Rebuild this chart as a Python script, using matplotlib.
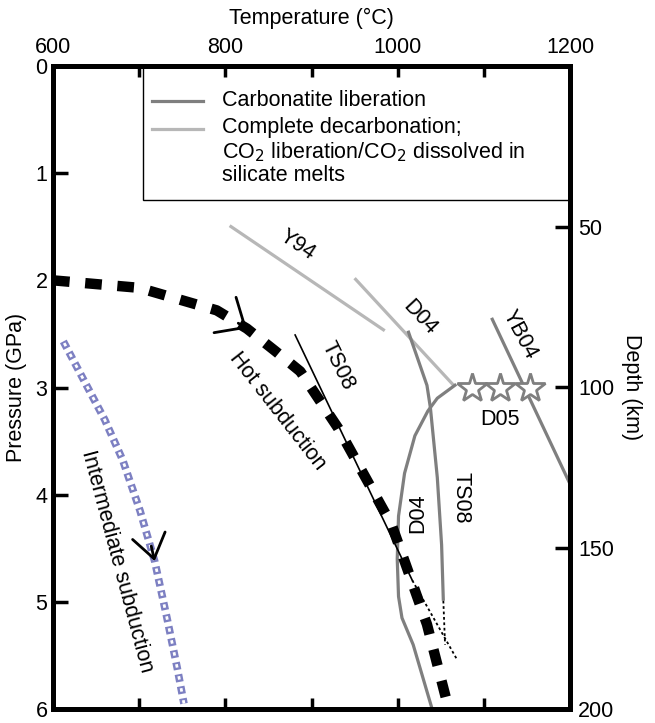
import numpy as np
import matplotlib
matplotlib.use("Agg")
import matplotlib.pyplot as plt
from matplotlib.patches import Rectangle

plt.rcParams['font.family'] = ['Liberation Sans', 'DejaVu Sans']
plt.rcParams['font.size'] = 15.5

#colors
DARK = '#7f7f7f'
LIGHT = '#b7b7b7'
BLUE = '#7d80c2'

#slab paths (T in C, P in GPa)
hot_T = [600, 700, 790, 825, 858, 887, 931, 993, 1034, 1058]
hot_P = [2.0, 2.07, 2.28, 2.45, 2.66, 2.85, 3.38, 4.28, 5.21, 5.96]
int_T = [612, 635, 660, 681, 701, 718, 732, 744, 752]
int_P = [2.57, 2.92, 3.3, 3.68, 4.15, 4.62, 5.14, 5.61, 5.95]

#carbonatite liberation (dark gray)
ts08_T = [1012, 1034, 1038, 1046, 1051, 1053]
ts08_P = [2.47, 2.98, 3.19, 3.84, 4.47, 4.99]
ts08_ext_T = [1053, 1055]
ts08_ext_P = [4.99, 5.40]
d04_T = [1068, 1046, 1035, 1020, 1008, 1001, 999.5, 1001, 1005, 1018, 1040]
d04_P = [2.97, 3.10, 3.22, 3.45, 3.8, 4.2, 4.6, 4.95, 5.15, 5.40, 6.0]
yb04_T = [1109, 1200]
yb04_P = [2.35, 3.90]

#complete decarbonation (light gray)
y94_T = [805, 985]
y94_P = [1.49, 2.47]
d04l_T = [950, 1065]
d04l_P = [1.98, 2.98]

#thin TS08 solidus line
ts08s_T = [881, 1017]
ts08s_P = [2.51, 4.80]
ts08s_ext_T = [1017, 1069]
ts08s_ext_P = [4.80, 5.54]

#D05 stars
d05_T = [1086, 1119, 1153]
d05_P = [3.0, 3.0, 3.0]

x_ticks = [600, 700, 800, 900, 1000, 1100, 1200]
x_labels = ['600', '', '800', '', '1000', '', '1200']
p_ticks = [0, 1, 2, 3, 4, 5, 6]
depth_ticks = [50, 100, 150, 200]

fig = plt.figure(figsize=(6.55, 7.23), dpi=100)
ax = fig.add_axes([53/655, 1-709/723, 517/655, 643/723])
ax.set_xlim(600, 1200)
ax.set_ylim(6, 0)

# intermediate subduction: hollow squares made of two dash patterns
ax.plot(int_T, int_P, color=BLUE, lw=5.5, ls=(0, (1.0, 0.6)), dash_capstyle='butt', zorder=3)
ax.plot(int_T, int_P, color='white', lw=2.0, ls=(7.45/2.0, (2.5/2.0, 6.3/2.0)),
        dash_capstyle='butt', zorder=4)

# gray curves
ax.plot(y94_T, y94_P, color=LIGHT, lw=2.3, solid_capstyle='butt')
ax.plot(d04l_T, d04l_P, color=LIGHT, lw=2.3, solid_capstyle='butt')
ax.plot(ts08_T, ts08_P, color=DARK, lw=2.3, solid_capstyle='butt')
ax.plot(d04_T, d04_P, color=DARK, lw=2.3, solid_capstyle='butt')
ax.plot(yb04_T, yb04_P, color=DARK, lw=2.3, solid_capstyle='butt')
ax.plot(ts08_ext_T, ts08_ext_P, color='black', lw=1.3, ls=(0, (1.5, 1.5)))
ax.plot(d05_T, d05_P, ls='none', marker='*', ms=22, mfc='white', mec=DARK, mew=2, zorder=5)

# thin TS08 line
ax.plot(ts08s_T, ts08s_P, color='black', lw=1.2)
ax.plot(ts08s_ext_T, ts08s_ext_P, color='black', lw=1.3, ls=(0, (1.5, 1.5)))

# hot subduction, thick dashes
ax.plot(hot_T, hot_P, color='black', lw=7.5, ls=(0, (1.6, 1.5)), dash_capstyle='butt', zorder=4)

# direction chevrons
ax.annotate('', xy=(hot_T[3], hot_P[3]), xytext=(815, 2.40),
            arrowprops=dict(arrowstyle='->, head_length=0.85, head_width=0.75', lw=2,
                            color='black', shrinkA=0, shrinkB=0, mutation_scale=20), zorder=6)
ax.annotate('', xy=(718, 4.62), xytext=(714, 4.48),
            arrowprops=dict(arrowstyle='->, head_length=0.85, head_width=0.6', lw=2,
                            color='black', shrinkA=0, shrinkB=0, mutation_scale=20), zorder=6)

# labels on curves
ax.text(884, 1.67, 'Y94', rotation=-34, ha='center', va='center')
ax.text(1026, 2.35, 'D04', rotation=-47, ha='center', va='center')
ax.text(1142, 2.51, 'YB04', rotation=-62, ha='center', va='center')
ax.text(930, 2.80, 'TS08', rotation=-64, ha='center', va='center')
ax.text(860, 3.22, 'Hot subduction', rotation=-52, ha='center', va='center')
ax.text(674, 4.62, 'Intermediate subduction', rotation=-75, ha='center', va='center')
ax.text(1119, 3.30, 'D05', ha='center', va='center')
ax.text(1023, 4.17, 'D04', rotation=90, ha='center', va='center')
ax.text(1074, 4.03, 'TS08', rotation=-90, ha='center', va='center')

# legend box
ax.add_patch(Rectangle((0.174, 0.791), 0.826, 0.209, transform=ax.transAxes,
                       fill=False, ec='black', lw=1, zorder=2))
ax.plot([0.191, 0.290], [0.946, 0.946], transform=ax.transAxes, color=DARK, lw=2.3)
ax.plot([0.191, 0.290], [0.902, 0.902], transform=ax.transAxes, color=LIGHT, lw=2.3)
ax.text(0.327, 0.946, 'Carbonatite liberation', transform=ax.transAxes, va='center')
ax.text(0.327, 0.921, 'Complete decarbonation;\nCO$_2$ liberation/CO$_2$ dissolved in\nsilicate melts',
        transform=ax.transAxes, va='top', linespacing=1.12)

# axes
for s in ax.spines.values():
    s.set_linewidth(3.6)
ax.xaxis.tick_top()
ax.xaxis.set_label_position('top')
ax.set_xticks(x_ticks)
ax.set_xticklabels(x_labels)
ax.tick_params(axis='x', which='both', direction='in', top=True, bottom=True,
               labeltop=True, labelbottom=False, length=8, width=2.5, pad=6)
ax.set_yticks(p_ticks)
ax.tick_params(axis='y', direction='in', left=True, right=False, length=11, width=2.5, pad=4)
ax.set_xlabel('Temperature (°C)', labelpad=9)
ax.set_ylabel('Pressure (GPa)', labelpad=6)

ax2 = ax.twinx()
ax2.set_ylim(200, 0)
ax2.set_yticks(depth_ticks)
ax2.tick_params(axis='y', direction='in', length=11, width=2.5, pad=6)
for s in ax2.spines.values():
    s.set_linewidth(3.6)
ax2.set_ylabel('Depth (km)', rotation=-90, labelpad=20)

fig.savefig('out.png', dpi=100)
